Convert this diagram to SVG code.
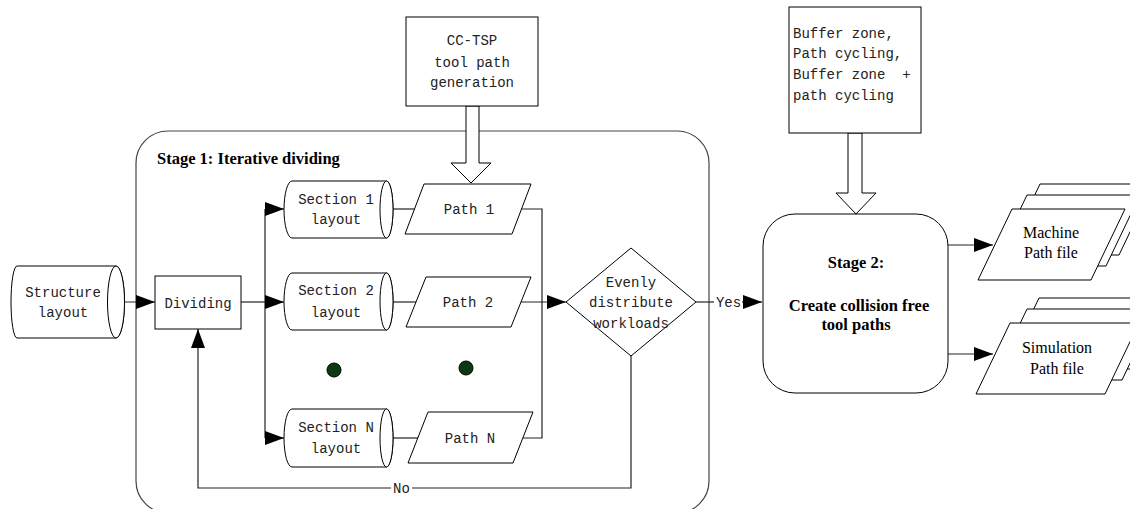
<svg xmlns="http://www.w3.org/2000/svg" width="1130" height="509" viewBox="0 0 1130 509">
  <defs>
    <marker id="arrow" markerUnits="userSpaceOnUse" markerWidth="19" markerHeight="14" refX="19" refY="7" orient="auto">
      <path d="M0,0 L19,7 L0,14 Z" fill="#000"/>
    </marker>
  </defs>
  <style>
    .shape { fill: #fff; stroke: #000; stroke-width: 1; }
    .frame { fill: #fff; stroke: #444; stroke-width: 1.2; }
    .line { fill: none; stroke: #222; stroke-width: 1.2; }
    .arr { marker-end: url(#arrow); }
    .mono { font-family: "Liberation Mono", "DejaVu Sans Mono", monospace; font-size: 14px; fill: #222; text-anchor: middle; }
    .left { text-anchor: start; white-space: pre; }
    .serif { font-family: "Liberation Serif", "Times New Roman", serif; font-size: 16px; fill: #000; text-anchor: middle; }
    .bold { font-family: "Liberation Serif", "Times New Roman", serif; font-size: 16.5px; font-weight: bold; fill: #000; }
    .dot { fill: #0b3a12; stroke: #000; stroke-width: 1; }
  </style>

  <rect width="1130" height="509" fill="#fff"/>

  <!-- Stage 1 container -->
  <g id="stage1">
    <rect class="frame" x="136" y="131" width="573" height="382" rx="32" ry="32"/>
    <text class="bold" x="157" y="164">Stage 1: Iterative dividing</text>
  </g>

  <!-- Stage 2 container -->
  <g id="stage2">
    <rect class="shape" x="763" y="214" width="185" height="179" rx="32" ry="32"/>
    <text class="bold" x="856" y="268" text-anchor="middle">Stage 2:</text>
    <text class="bold" x="859" y="311" text-anchor="middle">Create collision free</text>
    <text class="bold" x="856" y="330" text-anchor="middle">tool paths</text>
  </g>

  <!-- connectors -->
  <g id="connectors">
    <path class="line arr" d="M116,302 H155"/>
    <path class="line" d="M241,302 H265"/>
    <path class="line" d="M265,209 V438"/>
    <path class="line arr" d="M265,209 H284"/>
    <path class="line arr" d="M265,302 H284"/>
    <path class="line arr" d="M265,438 H284"/>
    <path class="line" d="M393,209 H415"/>
    <path class="line" d="M393,302 H416"/>
    <path class="line" d="M393,438 H418"/>
    <path class="line" d="M521,209 H542 V438 H523"/>
    <path class="line arr" d="M521,302 H566"/>
    <path class="line" d="M696,302 H714"/>
    <path class="line arr" d="M742,302 H762"/>
    <text class="mono" x="728.5" y="307">Yes</text>
    <path class="line" d="M631,356 V488 H412"/>
    <path class="line arr" d="M391,488 H198 V329"/>
    <text class="mono" x="401.5" y="493">No</text>
    <path class="line arr" d="M948,245 H993"/>
    <path class="line arr" d="M948,354 H993"/>
    <!-- hollow block arrows -->
    <path class="shape" d="M466,106 H479 V163 H491 L471,183 L451,163 H466 Z"/>
    <path class="shape" d="M848,133 H862 V193 H876 L856,214 L836,193 H848 Z"/>
  </g>

  <g id="structure-layout">
    <path class="shape" d="M17,266 H116 A8.5,36 0 0 1 116,338 H17 A6,36 0 0 1 17,266 Z"/>
    <ellipse class="shape" cx="116" cy="302" rx="8.5" ry="36"/>
    <text class="mono" x="63" y="297">Structure</text>
    <text class="mono" x="63" y="317">layout</text>
  </g>

  <g id="dividing">
    <rect class="shape" x="155" y="276" width="86" height="53"/>
    <text class="mono" x="198" y="308">Dividing</text>
  </g>

  <g id="section-1">
    <path class="shape" d="M292,181 H386.5 A6.5,28.5 0 0 1 386.5,238 H292 A8,28.5 0 0 1 292,181 Z"/>
    <ellipse class="shape" cx="386.5" cy="209.5" rx="6.5" ry="28.5"/>
    <text class="mono" x="336" y="204">Section 1</text>
    <text class="mono" x="336" y="224">layout</text>
  </g>

  <g id="section-2">
    <path class="shape" d="M292,273 H386.5 A6.5,28.5 0 0 1 386.5,330 H292 A8,28.5 0 0 1 292,273 Z"/>
    <ellipse class="shape" cx="386.5" cy="301.5" rx="6.5" ry="28.5"/>
    <text class="mono" x="336" y="295">Section 2</text>
    <text class="mono" x="336" y="317">layout</text>
  </g>

  <g id="section-n">
    <path class="shape" d="M292,409 H386.5 A6.5,29 0 0 1 386.5,467 H292 A8,29 0 0 1 292,409 Z"/>
    <ellipse class="shape" cx="386.5" cy="438" rx="6.5" ry="29"/>
    <text class="mono" x="336" y="432">Section N</text>
    <text class="mono" x="336" y="453">layout</text>
  </g>

  <g id="path-1">
    <polygon class="shape" points="424,184 531,184 512,234 405,234"/>
    <text class="mono" x="469" y="214">Path 1</text>
  </g>

  <g id="path-2">
    <polygon class="shape" points="426,277 531,277 511,327 406,327"/>
    <text class="mono" x="468" y="307">Path 2</text>
  </g>

  <g id="path-n">
    <polygon class="shape" points="428,412 533,412 513,463 408,463"/>
    <text class="mono" x="470" y="443">Path N</text>
  </g>

  <g id="ellipsis-dots">
    <circle class="dot" cx="334" cy="370" r="7"/>
    <circle class="dot" cx="466" cy="368" r="7"/>
  </g>

  <g id="decision">
    <polygon class="shape" points="566,302 631,248 696,302 631,356"/>
    <text class="mono" x="631" y="287">Evenly</text>
    <text class="mono" x="631" y="307">distribute</text>
    <text class="mono" x="631" y="328">workloads</text>
  </g>

  <g id="cc-tsp">
    <rect class="shape" x="406" y="17" width="132" height="89"/>
    <text class="mono" x="472" y="45">CC-TSP</text>
    <text class="mono" x="472" y="67">tool path</text>
    <text class="mono" x="472" y="87">generation</text>
  </g>

  <g id="strategies">
    <rect class="shape" x="789" y="7" width="132" height="126"/>
    <text class="mono left" x="793" y="38">Buffer zone,</text>
    <text class="mono left" x="793" y="58">Path cycling,</text>
    <text class="mono left" x="793" y="79">Buffer zone  +</text>
    <text class="mono left" x="793" y="100">path cycling</text>
  </g>

  <g id="machine-path-file">
    <polygon class="shape" points="1040,184 1153,184 1119,255 1006,255"/>
    <polygon class="shape" points="1027,195 1140,195 1106,266 993,266"/>
    <polygon class="shape" points="1012,209 1125,209 1091,280 978,280"/>
    <text class="serif" x="1051" y="238">Machine</text>
    <text class="serif" x="1051" y="258">Path file</text>
  </g>

  <g id="simulation-path-file">
    <polygon class="shape" points="1039,298 1168,298 1134,369 1005,369"/>
    <polygon class="shape" points="1027,309 1156,309 1122,380 993,380"/>
    <polygon class="shape" points="1010,323 1139,323 1105,394 976,394"/>
    <text class="serif" x="1057" y="353">Simulation</text>
    <text class="serif" x="1057" y="374">Path file</text>
  </g>
</svg>
